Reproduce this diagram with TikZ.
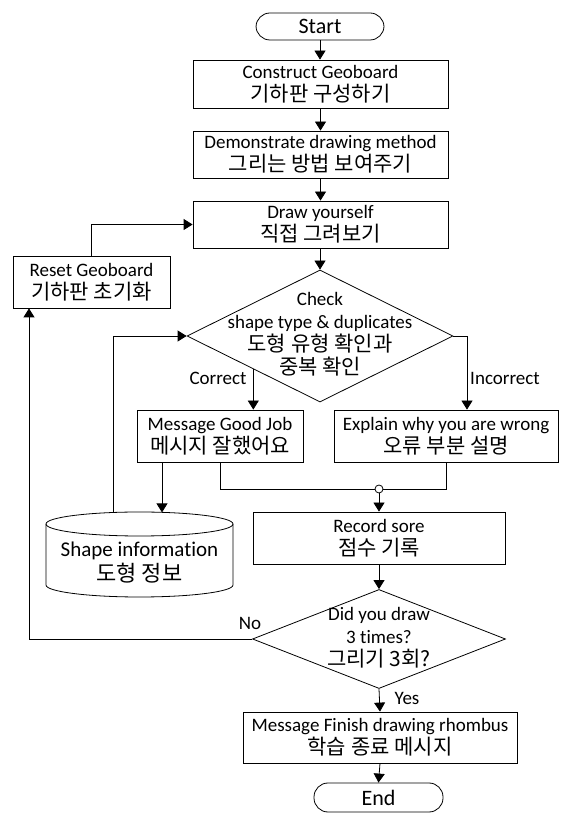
\documentclass[tikz,border=0pt]{standalone}
\usepackage{fontspec}
\setmainfont{Carlito}[Ligatures=CommonOff]
\newfontfamily\krf{Noto Sans CJK KR}
\newcommand{\kr}{\krf\fontsize{21}{23}\selectfont}
\usetikzlibrary{arrows.meta,shapes.geometric}
\tikzset{
  txt/.style={font=\fontsize{19}{23}\selectfont},
  box/.style={draw, line width=0.8pt, rectangle, align=center, inner sep=1pt, txt},
  term/.style={box, rounded corners=14pt, font=\fontsize{22}{25}\selectfont},
  dia/.style={draw, line width=0.8pt, diamond, inner sep=0pt},
  arr/.style={-{Triangle[length=9pt,width=11pt]}, line width=0.8pt},
  ln/.style={line width=0.8pt},
  lbl/.style={txt, inner sep=0pt}
}
\begin{document}
\begin{tikzpicture}[x=1pt,y=1pt]
\useasboundingbox (0,0) rectangle (564,814);
% nodes
\node[term, minimum width=128pt, minimum height=27pt] (start) at (320,787.5) {Start};
\node[box, minimum width=255pt, minimum height=48pt] (cons) at (320.5,730) {Construct Geoboard\\{\kr 기하판 구성하기}};
\node[box, minimum width=255pt, minimum height=47pt] (demo) at (320.5,659.5) {Demonstrate drawing method\\{\kr 그리는 방법 보여주기}};
\node[box, minimum width=255pt, minimum height=47pt] (draw) at (320.5,589.5) {Draw yourself\\{\kr 직접 그려보기}};
\node[box, minimum width=157pt, minimum height=52pt] (reset) at (91.5,532) {Reset Geoboard\\{\kr 기하판 초기화}};
\node[dia, minimum width=266pt, minimum height=132pt] (chk) at (320,478) {};
\node[lbl, align=center] (chkt) at (320,480) {Check\\shape type \& duplicates\\{\kr 도형 유형 확인과}\\{\kr 중복 확인}};
\node[box, minimum width=166pt, minimum height=52pt] (gj) at (220,378) {Message Good Job\\{\kr 메시지 잘했어요}};
\node[box, minimum width=224pt, minimum height=52pt] (ex) at (446,378) {Explain why you are wrong\\{\kr 오류 부분 설명}};
\node[circle, draw, line width=0.8pt, fill=white, inner sep=0pt, minimum size=8pt] (jn) at (379,325) {};
\node[box, minimum width=252pt, minimum height=52pt] (rec) at (379,276) {Record sore\\{\kr 점수 기록}};
% cylinder
\draw[ln] (139.5,290) ellipse [x radius=93.5pt, y radius=12pt];
\draw[ln] (46,290) -- (46,229) arc[start angle=180, end angle=360, x radius=93.5pt, y radius=12pt] -- (233,290);
\node[align=center, inner sep=0pt, font=\fontsize{21}{25}\selectfont] (db) at (139.5,251) {Shape information\\{\krf\fontsize{22}{25}\selectfont 도형 정보}};
\coordinate (dbtopA) at (113,301.5);
\coordinate (dbtopB) at (162,301.6);
\node[dia, minimum width=253pt, minimum height=99pt] (d2) at (379,175) {};
\node[lbl, align=center] (d2t) at (379,176) {Did you draw\\3 times?\\{\kr 그리기 3회?}};
\node[box, minimum width=274pt, minimum height=51pt] (fin) at (380,76.5) {Message Finish drawing rhombus\\{\kr 학습 종료 메시지}};
\node[term, minimum width=129pt, minimum height=29pt] (end) at (378.5,16.5) {End};
% connectors
\draw[arr] (start.south) -- (start.south |- cons.north);
\draw[arr] (cons.south) -- (demo.north);
\draw[arr] (demo.south) -- (draw.north);
\draw[arr] (draw.south -| chk.north) -- (chk.north);
\draw[arr] (reset.north) |- (draw.west);
\draw[arr] (dbtopA) |- (chk.west);
\draw[arr] (chk.south west) -- (chk.south west |- gj.north);
\node[lbl] (lc) at (218,436) {Correct};
\draw[arr] (chk.east) -| ([xshift=21pt]ex.north);
\node[lbl] (li) at (505,436) {Incorrect};
\draw[ln] (gj.south) |- (jn.west);
\draw[ln] (ex.south) |- (jn.east);
\draw[arr] (jn.south) -- (rec.north);
\draw[arr] ([xshift=-58pt]gj.south) -- (dbtopB);
\draw[arr] (rec.south) -- (d2.north);
\draw[arr] (d2.west) -| ([xshift=-62.5pt]reset.south);
\node[lbl] (lno) at (250,191) {No};
\draw[arr] (d2.south) -- (fin.north);
\node[lbl] (lyes) at (407,116) {Yes};
\draw[arr] (fin.south) -- (end.north);
\end{tikzpicture}
\end{document}
